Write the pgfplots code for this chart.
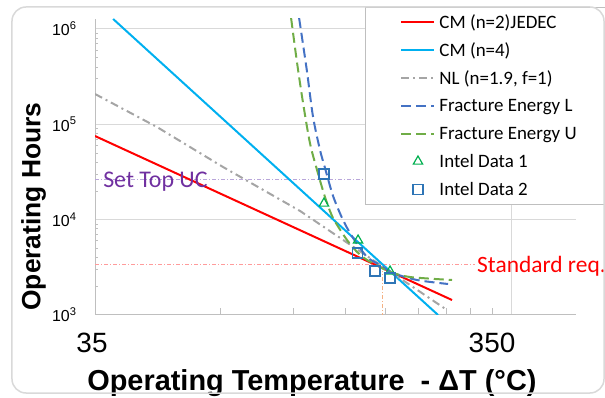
\documentclass[border=0pt]{standalone}
\usepackage{pgfplots}
\pgfplotsset{compat=1.18}
\usepackage{fontspec}
\setmainfont{Liberation Sans}
\newfontfamily\calibri{Carlito}
\definecolor{cmred}{HTML}{FF0000}
\definecolor{cmcyan}{HTML}{00B0F0}
\definecolor{nlgray}{HTML}{A5A5A5}
\definecolor{fel}{HTML}{4472C4}
\definecolor{feu}{HTML}{70AD47}
\definecolor{intgreen}{HTML}{00B050}
\definecolor{intblue}{HTML}{2E75B6}
\definecolor{purp}{HTML}{7030A0}
\definecolor{purpline}{HTML}{B9A6DA}
\definecolor{stdline}{HTML}{FF9B9B}
\definecolor{vline}{HTML}{F4B183}
\definecolor{gridgray}{HTML}{D9D9D9}
\definecolor{axgray}{HTML}{BFBFBF}
\begin{document}
\begin{tikzpicture}
\begin{axis}[
  scale only axis, width=481bp, height=296bp,
  xmode=log, ymode=log,
  xmin=35, xmax=501.5, ymin=1000, ymax=1.273e6,
  axis lines*=left,
  axis line style={draw=axgray, line width=1bp},
  tick align=inside,
  major tick length=0bp,
  minor tick length=3bp,
  tick style={axgray, line width=0.8bp},
  xtick={35,350},
  xticklabels={35,{350\hspace*{32bp}}},
  xticklabel style={font=\fontsize{28}{30}\selectfont, xshift=-3bp, yshift=-15bp},
  extra x ticks={70,105,140,175,210,245,280,315},
  extra x tick labels={},
  extra x tick style={grid=none, major tick length=7bp},
  ytick={1000,10000,100000,1000000},
  yticklabels={10\textsuperscript{3},10\textsuperscript{4},10\textsuperscript{5},10\textsuperscript{6}},
  yticklabel style={font=\fontsize{16}{18}\selectfont, xshift=-15bp},
  minor ytick={2000,3000,4000,5000,6000,7000,8000,9000,20000,30000,40000,50000,60000,70000,80000,90000,200000,300000,400000,500000,600000,700000,800000,900000},
  xmajorgrids, ymajorgrids,
  major grid style={gridgray, line width=1bp},
  xlabel={Operating Temperature\ \ - ΔT (°C)},
  xlabel style={font=\bfseries\fontsize{29}{32}\selectfont, at={(axis description cs:0.451,-0.2297)}, anchor=center},
  ylabel={Operating Hours},
  ylabel style={font=\bfseries\fontsize{26.5}{30}\selectfont, at={(axis description cs:-0.1274,0.3666)}, anchor=center},
  legend cell align=left,
  legend image code/.code={\draw[mark repeat=2,mark phase=2,#1] plot coordinates {(0bp,0bp)(16.5bp,0bp)(33bp,0bp)};},
  legend style={at={(rel axis cs:0.5613,1.0405)}, anchor=north west, draw=axgray, line width=1bp, fill=white,
    inner xsep=35bp, inner ysep=1bp, row sep=0pt, column sep=4bp,
    font=\calibri\fontsize{19}{22}\selectfont,
    nodes={inner sep=0pt, text width=175bp, align=flush left, text height=20bp, text depth=7.8bp}},
]
\coordinate (sw) at (rel axis cs:0,0);
\coordinate (stdreq) at (axis cs:290,2825);
% annotation lines
\addplot[forget plot, stdline, line width=0.9bp, dash pattern=on 4bp off 2bp on 1bp off 2bp] coordinates {(35,3427) (286.8,3427)};
\addplot[forget plot, vline, line width=0.9bp, dash pattern=on 4bp off 2bp on 1bp off 2bp] coordinates {(171.4,950) (171.4,2900)};
\addplot[forget plot, purpline, line width=0.9bp, dash pattern=on 4bp off 2bp on 1bp off 2bp] coordinates {(35,26380) (156,26380)};
% curves
\addplot[cmred, line width=2bp] coordinates {(35,75400) (252.5,1436)};
\addlegendentry{CM (n=2)JEDEC}
\addplot[cmcyan, line width=2bp] coordinates {(38.7,1.273e6) (233.7,1000)};
\addlegendentry{CM (n=4)}
\addplot[nlgray, line width=2bp, dash pattern=on 8bp off 4bp on 2bp off 4bp] coordinates {(35,208000) (49.3,93760) (71.1,35670) (108.9,12325) (160.3,3961) (245.6,1128)};
\addlegendentry{NL (n=1.9, f=1)}
\addplot[fel, line width=2bp, dash pattern=on 10bp off 5bp, smooth] coordinates {(108.3,1.305e6) (113.0,371500) (117.0,119400) (121.6,53800) (125.0,34830) (130.7,17710) (138.1,9918) (146.0,6421) (157.8,4058) (169.5,3344) (182.2,2757) (208.0,2328) (247.0,2114)};
\addlegendentry{Fracture Energy L}
\addplot[feu, line width=2bp, dash pattern=on 10bp off 5bp, smooth] coordinates {(103.6,1.305e6) (107.1,439800) (110.7,167400) (115.0,63700) (119.6,33180) (125.0,17290) (130.7,10410) (141.2,6117) (149.3,4580) (157.8,3775) (169.5,3187) (179.2,2825) (200.1,2503) (252.5,2328)};
\addlegendentry{Fracture Energy U}
\addplot[only marks, mark=triangle, mark size=5.4bp, intgreen, line width=1.2bp] coordinates {(124.3,14810) (150.1,6060) (179.2,2866)};
\addlegendentry{Intel Data 1}
\addplot[only marks, mark=square, mark size=5bp, intblue, line width=1.2bp] coordinates {(124.3,30130) (149.3,4470) (164.9,2893) (179.2,2443)};
\addlegendentry{Intel Data 2}
\node[anchor=base west, inner sep=0pt, text=purp, font=\calibri\fontsize{24}{26}\selectfont] at (axis cs:36.6,21640) {Set Top UC};
\end{axis}
\node[anchor=base west, inner sep=0pt, text=cmred, font=\calibri\fontsize{23.5}{26}\selectfont] at (stdreq) {Standard req.};
\draw[gridgray, line width=1.5bp, rounded corners=14bp] ([shift={(-83bp,-78bp)}]sw) rectangle ([shift={(509bp,308bp)}]sw);
\pgfresetboundingbox
\path ([shift={(-95bp,-83bp)}]sw) rectangle ([shift={(510bp,315bp)}]sw);
\end{tikzpicture}
\end{document}
